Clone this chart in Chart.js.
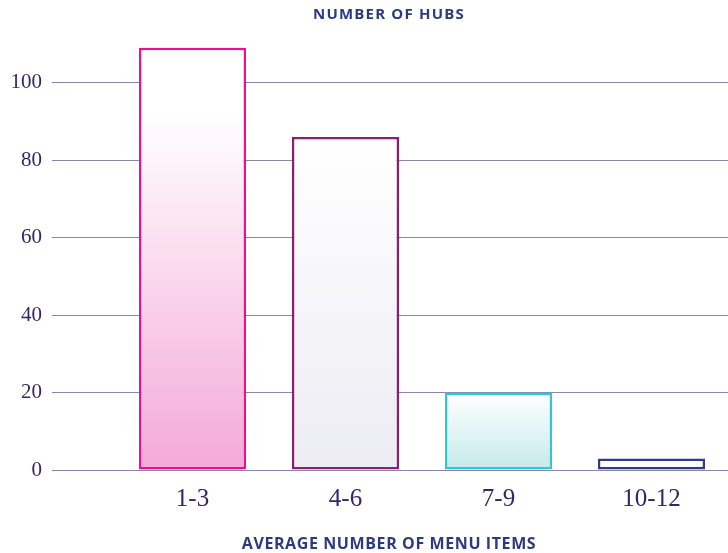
<!DOCTYPE html>
<html>
<head>
<meta charset="utf-8">
<script src="https://cdn.jsdelivr.net/npm/chart.js@4"></script>
<style>
  html, body { margin: 0; padding: 0; background: #fff; }
  #wrap { width: 728px; height: 553px; position: relative; }
</style>
</head>
<body>
<div id="wrap"><canvas id="hubChart" width="728" height="553"></canvas></div>
<script>
// Chart data
const menuItemRanges = ["1-3", "4-6", "7-9", "10-12"];
const hubCounts = [109, 86, 20, 3];
const yTickValues = [0, 20, 40, 60, 80, 100];

const chartTitle = "NUMBER OF HUBS";
const xAxisTitle = "AVERAGE NUMBER OF MENU ITEMS";

// bar styles
const borderColors = ["#ec0f8f", "#8e1c70", "#2cc9d1", "#2f3c82"];
const bottomColors = ["#f4a9d8", "#ececf3", "#c5eaec", "#ffffff"];

const gridColor = "#8c84aa";
const labelColor = "#3a2467";
const titleColor = "#2c3a80";

function barFill(context) {
    const chart = context.chart;
    const area = chart.chartArea;
    if (!area) return "#fff";
    const i = context.dataIndex;
    const yScale = chart.scales.y;
    const top = yScale.getPixelForValue(hubCounts[i]);
    const bottom = yScale.getPixelForValue(0);
    const g = chart.ctx.createLinearGradient(0, top, 0, bottom);
    g.addColorStop(0, "#ffffff");
    if (i === 0) g.addColorStop(0.15, "#ffffff");
    g.addColorStop(1, bottomColors[i]);
    return g;
}

// draws the two titles (centred a bit right of the canvas middle)
const titlesPlugin = {
    id: "titles",
    afterDraw(chart) {
        const ctx = chart.ctx;
        ctx.save();
        ctx.fillStyle = titleColor;
        ctx.textAlign = "center";
        ctx.textBaseline = "middle";
        ctx.font = "700 15px 'Open Sans'";
        ctx.letterSpacing = "1.2px";
        ctx.fillText(chartTitle, 389, 15);
        ctx.font = "700 16px 'Open Sans'";
        ctx.letterSpacing = "0.6px";
        ctx.fillText(xAxisTitle, 389, 544);
        ctx.restore();
    }
};

new Chart(document.getElementById("hubChart"), {
    type: "bar",
    data: {
        labels: menuItemRanges,
        datasets: [{
            label: "Number of hubs",
            data: hubCounts,
            backgroundColor: barFill,
            borderColor: borderColors,
            borderWidth: 2.5,
            borderSkipped: false,
            categoryPercentage: 1,
            barPercentage: 0.7
        }]
    },
    options: {
        responsive: false,
        animation: false,
        layout: { padding: { top: 44, right: 0, bottom: 0, left: 0 } },
        plugins: {
            legend: { display: false },
            tooltip: { enabled: false }
        },
        scales: {
            x: {
                grid: { display: false },
                border: { display: false },
                ticks: {
                    color: labelColor,
                    padding: 6,
                    font: { family: "'Liberation Serif'", size: 25 }
                },
                afterFit(axis) { axis.height = 83; }
            },
            y: {
                min: 0,
                max: 110,
                afterBuildTicks(axis) {
                    axis.ticks = yTickValues.map(v => ({ value: v }));
                },
                grid: {
                    color: gridColor,
                    lineWidth: 1,
                    drawTicks: true,
                    tickLength: 64,
                    tickColor: gridColor
                },
                border: { display: false },
                ticks: {
                    color: labelColor,
                    padding: 10,
                    font: { family: "'Liberation Serif'", size: 21 }
                },
                afterFit(axis) { axis.width = 116; }
            }
        }
    },
    plugins: [titlesPlugin]
});
</script>
</body>
</html>
